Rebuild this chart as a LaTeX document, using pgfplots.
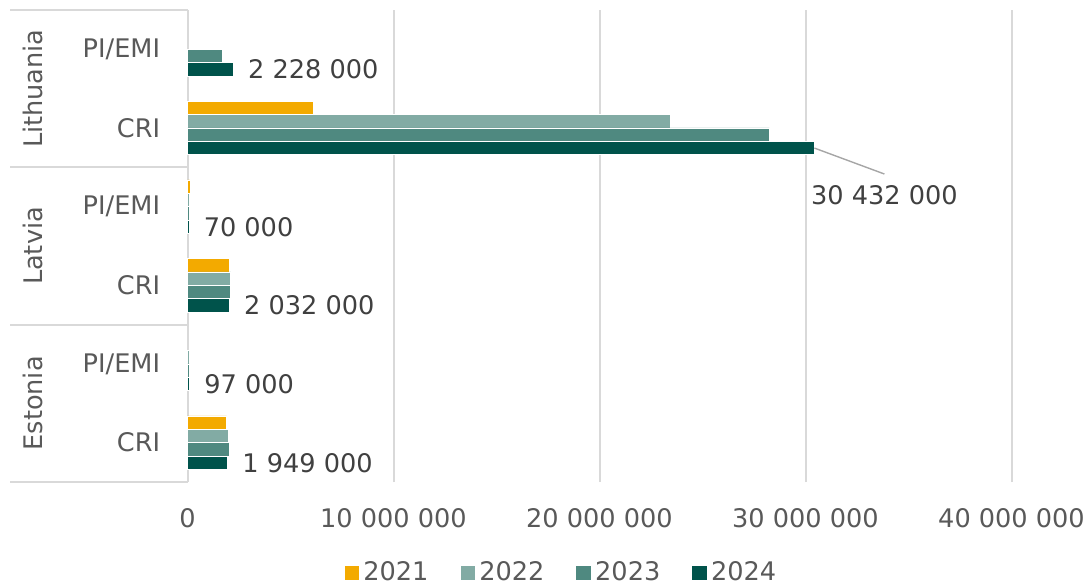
\documentclass[border=0pt]{standalone}
\usepackage{pgfplots}
\pgfplotsset{compat=1.18}
\usepackage{fontspec}
\setmainfont{DejaVu Sans}
\definecolor{c21}{RGB}{243,170,0}
\definecolor{c22}{RGB}{130,171,164}
\definecolor{c23}{RGB}{79,137,128}
\definecolor{c24}{RGB}{0,83,75}
\definecolor{gridc}{RGB}{217,217,217}
\definecolor{tickc}{RGB}{89,89,89}
\definecolor{labc}{RGB}{64,64,64}
\definecolor{leadc}{RGB}{166,166,166}
\begin{document}
\fontsize{12.8bp}{15.4bp}\selectfont
\begin{tikzpicture}
\path[use as bounding box] (0,0) rectangle (545.5bp,292.5bp);
\begin{axis}[
  at={(93.75bp,51.5bp)}, anchor=south west,
  scale only axis, width=412bp, height=236bp,
  xmin=0, xmax=4e7, ymin=-0.5, ymax=5.5,
  xbar, bar width=0.17,
  clip=false,
  axis line style={draw=none},
  major tick length=0,
  xtick={0,1e7,2e7,3e7,4e7},
  scaled x ticks=false,
  xmajorgrids, grid style={gridc, line width=1bp},
  ytick={0,1,2,3,4,5},
  yticklabels={CRI,PI/EMI,CRI,PI/EMI,CRI,PI/EMI},
  /pgf/number format/fixed,
  /pgf/number format/precision=0,
  /pgf/number format/1000 sep={\ },
  /pgf/number format/assume math mode=true,
  xticklabel style={anchor=center, yshift=-18bp, text=tickc},
  yticklabel style={anchor=east, inner sep=0pt, xshift=-13.5bp, text=tickc},
  legend style={at={(0.455,-0.193)}, anchor=center, draw=none, fill=none,
    legend columns=4, text=tickc,
    /tikz/every even column/.append style={column sep=14bp},
    font=\fontsize{12.8bp}{15.4bp}\selectfont},
  legend image code/.code={\fill[#1,draw=none] (0bp,-3.7bp) rectangle (7.4bp,3.7bp);},
]
\addplot[fill=c21, draw=white, line width=0.3bp, bar shift=0.255] coordinates {
  (1900000,0) (2030000,2) (120000,3) (6120000,4)};
\addlegendentry{2021}
\addplot[fill=c22, draw=white, line width=0.3bp, bar shift=0.085] coordinates {
  (1990000,0) (80000,1) (2100000,2) (70000,3) (23430000,4)};
\addlegendentry{2022}
\addplot[fill=c23, draw=white, line width=0.3bp, bar shift=-0.085] coordinates {
  (2020000,0) (90000,1) (2100000,2) (70000,3) (28250000,4) (1690000,5)};
\addlegendentry{2023}
\addplot[fill=c24, draw=white, line width=0.3bp, bar shift=-0.255,
  point meta=x, nodes near coords={\pgfmathprintnumber{\pgfplotspointmeta}},
  every node near coord/.append style={text=labc, xshift=3bp}] coordinates {
  (1949000,0) (97000,1) (2032000,2) (70000,3) (2228000,5)};
\addlegendentry{2024}
\addplot[fill=c24, draw=white, line width=0.3bp, bar shift=-0.255, forget plot] coordinates {
  (30432000,4)};
% category separators
\draw[gridc, line width=1bp] (axis cs:-8.6e6,5.5) -- (axis cs:0,5.5);
\draw[gridc, line width=1bp] (axis cs:-8.6e6,3.5) -- (axis cs:0,3.5);
\draw[gridc, line width=1bp] (axis cs:-8.6e6,1.5) -- (axis cs:0,1.5);
\draw[gridc, line width=1bp] (axis cs:-8.6e6,-0.5) -- (axis cs:0,-0.5);
\node[rotate=90, text=tickc] at (axis cs:-7.48e6,4.5) {Lithuania};
\node[rotate=90, text=tickc] at (axis cs:-7.48e6,2.5) {Latvia};
\node[rotate=90, text=tickc] at (axis cs:-7.48e6,0.5) {Estonia};
% leader label
\draw[leadc, line width=0.7bp] (axis cs:30432000,3.745) -- (axis cs:33.83e6,3.415);
\node[text=labc] at (axis cs:33.83e6,3.148) {30 432 000};
\end{axis}
\end{tikzpicture}
\end{document}
